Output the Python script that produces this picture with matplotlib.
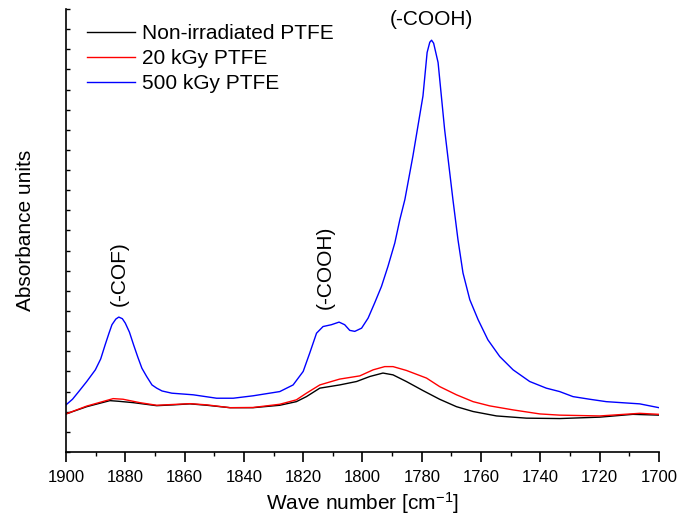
import matplotlib
matplotlib.use("Agg")
import matplotlib.pyplot as plt
from matplotlib.ticker import MultipleLocator, NullFormatter

plt.rcParams["font.family"] = ["Liberation Sans", "DejaVu Sans"]
plt.rcParams["mathtext.default"] = "regular"

# spectra (arbitrary absorbance units)
wn_500 = [1900, 1897.8, 1895.7, 1893, 1890.1, 1888.3, 1886.8, 1885.5, 1884.5,
          1883.2, 1882.2, 1881, 1880, 1878.6, 1877.2, 1875.8, 1874.4, 1872.8,
          1871, 1869.4, 1867.6, 1864.3, 1857.1, 1849.2, 1843.6, 1836.9, 1827.9,
          1823.4, 1820, 1817.8, 1815.5, 1813.3, 1810.5, 1807.9, 1806.0, 1804.3,
          1802.6, 1800.3, 1798.1, 1795.9, 1793.6, 1791.4, 1789.1, 1787.4, 1785.7,
          1783, 1779.6, 1778.2, 1777.3, 1776.7, 1776.0, 1774.5, 1772.3, 1769.5,
          1767.8, 1766.1, 1763.8, 1761.0, 1757.7, 1753.7, 1749.2, 1743.6, 1738.0,
          1733.5, 1729, 1723.4, 1717.8, 1706.5, 1700]
abs_500 = [2.34, 2.62, 3.00, 3.50, 4.08, 4.62, 5.32, 5.90, 6.32,
           6.60, 6.70, 6.62, 6.40, 5.95, 5.32, 4.72, 4.16, 3.75,
           3.33, 3.17, 3.03, 2.92, 2.84, 2.67, 2.67, 2.79, 3.00,
           3.33, 4.00, 4.91, 5.90, 6.23, 6.32, 6.45, 6.32, 6.04,
           5.99, 6.15, 6.65, 7.40, 8.22, 9.22, 10.38, 11.54, 12.54,
           14.69, 17.68, 19.84, 20.35, 20.45, 20.30, 19.34, 16.02, 12.54,
           10.55, 8.89, 7.56, 6.57, 5.57, 4.74, 4.08, 3.50, 3.17,
           3.00, 2.75, 2.62, 2.50, 2.39, 2.20]

wn_0 = [1900, 1893, 1885.2, 1882.4, 1877.3, 1869.4, 1863.8, 1858.2, 1852.5,
        1844.7, 1836.9, 1827.9, 1822.3, 1818.9, 1814.4, 1807.7, 1802.0, 1797.5,
        1793.1, 1789.7, 1785.2, 1779.6, 1774.0, 1768.3, 1762.7, 1754.8, 1744.7,
        1733.5, 1720, 1708.8, 1700]
abs_0 = [1.89, 2.25, 2.55, 2.52, 2.45, 2.30, 2.34, 2.39, 2.32,
         2.20, 2.20, 2.32, 2.50, 2.75, 3.17, 3.33, 3.50, 3.75,
         3.92, 3.83, 3.50, 3.05, 2.62, 2.25, 2.01, 1.79, 1.68,
         1.66, 1.73, 1.87, 1.83]

wn_20 = [1900, 1893, 1884.1, 1880.8, 1875.1, 1869.4, 1858.2, 1852.5, 1844.7,
         1836.9, 1827.9, 1822.3, 1818.9, 1814.4, 1807.7, 1800.9, 1796.4, 1792.5,
         1789.7, 1785.2, 1778.4, 1774.0, 1768.3, 1762.7, 1757.1, 1749.2, 1740.2,
         1733.5, 1720, 1706.5, 1700]
abs_20 = [1.89, 2.28, 2.65, 2.62, 2.45, 2.32, 2.40, 2.34, 2.20,
          2.21, 2.37, 2.59, 2.92, 3.33, 3.62, 3.78, 4.08, 4.24,
          4.24, 4.05, 3.67, 3.25, 2.84, 2.50, 2.29, 2.09, 1.89,
          1.83, 1.79, 1.92, 1.87]

labels = ["Non-irradiated PTFE", "20 kGy PTFE", "500 kGy PTFE"]

fig = plt.figure(figsize=(6.79, 5.2), dpi=100)
ax = fig.add_axes([0.0972, 0.1308, 0.8733, 0.8519])

ax.plot(wn_0, abs_0, color="black", lw=1, label=labels[0])
ax.plot(wn_20, abs_20, color="red", lw=1, label=labels[1])
ax.plot(wn_500, abs_500, color="blue", lw=1, label=labels[2])

ax.set_xlim(1900, 1700)
ax.set_ylim(0, 22)
ax.xaxis.set_major_locator(MultipleLocator(20))
ax.xaxis.set_minor_locator(MultipleLocator(10))
ax.yaxis.set_major_locator(MultipleLocator(1))
ax.yaxis.set_major_formatter(NullFormatter())
ax.tick_params(axis="x", which="major", direction="out", length=7, width=1.2,
               labelsize=12, pad=6)
ax.tick_params(axis="x", which="minor", direction="out", length=3, width=1)
ax.tick_params(axis="y", which="major", direction="in", length=3, width=1)
for s in ("top", "right"):
    ax.spines[s].set_visible(False)
for s in ("left", "bottom"):
    ax.spines[s].set_linewidth(1.2)

ax.set_xlabel("Wave number [cm$^{-1}$]", fontsize=15, labelpad=4)
ax.set_ylabel("Absorbance units", fontsize=15, labelpad=19)

ax.text(1776.7, 21.0, "(-COOH)", fontsize=15, ha="center", va="bottom")
ax.text(1882.2, 7.25, "(-COF)", fontsize=15, rotation=90, ha="center", va="bottom")
ax.text(1812.7, 7.1, "(-COOH)", fontsize=15, rotation=90, ha="center", va="bottom")

ax.legend(loc="upper left", bbox_to_anchor=(0.022, 0.985), frameon=False, fontsize=15,
          handlelength=2.3, handletextpad=0.3, labelspacing=0.3, borderaxespad=0)

fig.savefig("out.png", dpi=100)
